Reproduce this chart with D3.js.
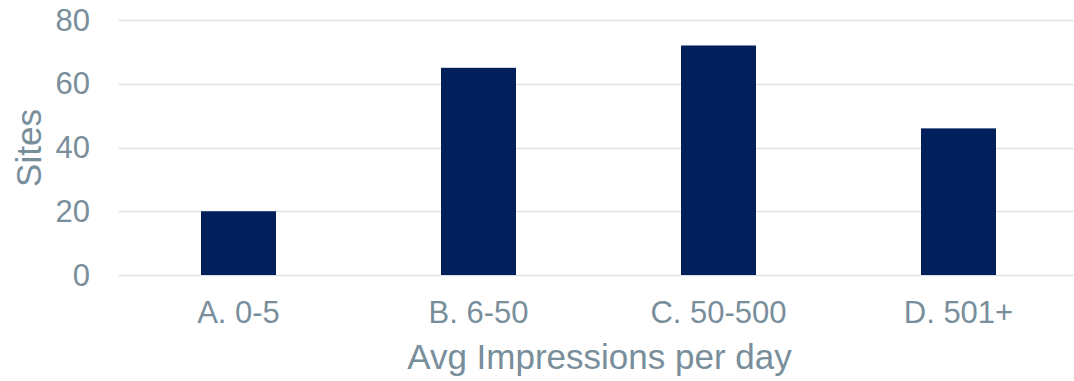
<!DOCTYPE html>
<html>
<head>
<meta charset="utf-8">
<script src="https://cdn.jsdelivr.net/npm/d3@7"></script>
<style>
  html, body { margin: 0; padding: 0; background: #ffffff; }
  svg { display: block; }
  text { font-family: "Liberation Sans", Arial, sans-serif; fill: #798e9b; }
</style>
</head>
<body>
<svg id="chart" width="1074" height="381"></svg>
<script>
const categories = ["A. 0-5", "B. 6-50", "C. 50-500", "D. 501+"];
const sites = [20, 65, 72, 46];
const yTicks = [0, 20, 40, 60, 80];
const xTitle = "Avg Impressions per day";
const yTitle = "Sites";

const svg = d3.select("#chart");
const plotLeft = 118.5, plotRight = 1078.5, plotTop = 20, plotBottom = 275;

const x = d3.scaleBand().domain(categories).range([plotLeft, plotRight])
  .paddingInner(0.6875).paddingOuter(0.34375);
const y = d3.scaleLinear().domain([0, 80]).range([plotBottom, plotTop]);

// gridlines
svg.append("g").selectAll("line").data(yTicks).join("line")
  .attr("x1", plotLeft).attr("x2", 1074)
  .attr("y1", d => Math.round(y(d)) + 0.5).attr("y2", d => Math.round(y(d)) + 0.5)
  .attr("stroke", "#dce2e7").attr("stroke-width", 1.5);

// y tick labels
svg.append("g").selectAll("text").data(yTicks).join("text")
  .attr("x", 90).attr("y", d => y(d))
  .attr("text-anchor", "end").attr("dominant-baseline", "central")
  .attr("font-size", 31).text(d => d);

// bars
const data = categories.map((c, i) => ({c, v: sites[i]}));
svg.append("g").selectAll("rect").data(data).join("rect")
  .attr("x", d => x(d.c)).attr("width", x.bandwidth())
  .attr("y", d => y(d.v)).attr("height", d => y(0) - y(d.v))
  .attr("fill", "#001f5b");

// x tick labels
svg.append("g").selectAll("text").data(categories).join("text")
  .attr("x", d => x(d) + x.bandwidth() / 2).attr("y", 323)
  .attr("text-anchor", "middle").attr("font-size", 31).text(d => d);

// axis titles
svg.append("text").attr("x", (plotLeft + plotRight) / 2 + 1).attr("y", 369)
  .attr("text-anchor", "middle").attr("font-size", 35).text(xTitle);

svg.append("text").attr("transform", "translate(41,148) rotate(-90)")
  .attr("text-anchor", "middle").attr("font-size", 35).text(yTitle);
</script>
</body>
</html>
